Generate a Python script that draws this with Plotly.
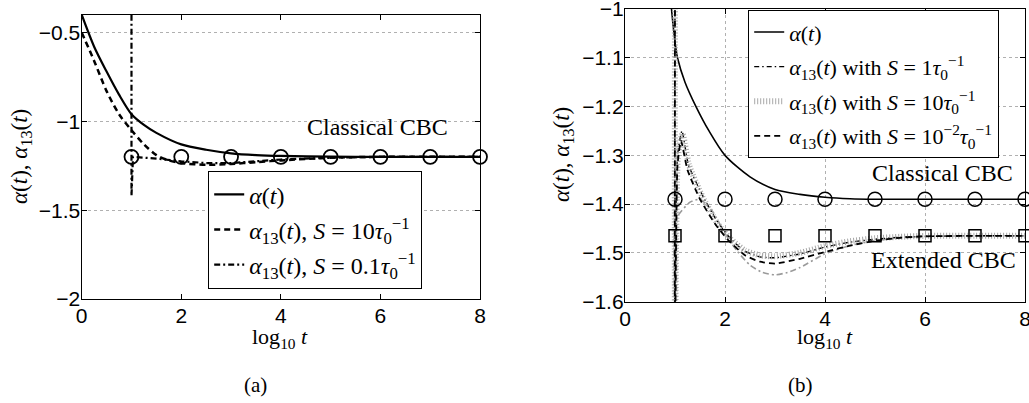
import plotly.graph_objects as go

# ---------------- Panel (a) data ----------------
a_x_alpha = [0, 0.25, 0.5, 0.75, 1, 1.25, 1.5, 2, 2.5, 3, 3.5, 4, 5, 6, 7, 8]
a_y_alpha = [-0.40, -0.58, -0.72, -0.85, -0.96, -1.02, -1.065, -1.13, -1.16, -1.18, -1.19, -1.195, -1.199, -1.2, -1.2, -1.2]

a_x_s10 = [0, 0.25, 0.5, 0.75, 1, 1.25, 1.5, 1.75, 2, 2.5, 3, 3.5, 4, 5, 6, 7, 8]
a_y_s10 = [-0.50, -0.66, -0.83, -0.96, -1.05, -1.13, -1.19, -1.22, -1.235, -1.245, -1.24, -1.23, -1.22, -1.205, -1.2, -1.2, -1.2]

a_x_s01 = [1.0, 1.0, 1.03, 1.5, 2, 2.5, 3, 4, 5, 6, 7, 8]
a_y_s01 = [-0.40, -1.42, -1.20, -1.21, -1.225, -1.235, -1.235, -1.215, -1.205, -1.2, -1.2, -1.2]

a_x_circ = [1, 2, 3, 4, 5, 6, 7, 8]
a_y_circ = [-1.2] * 8

# ---------------- Panel (b) data ----------------
b_x_alpha = [0.93, 0.98, 1.05, 1.2, 1.42, 1.68, 2.0, 2.5, 3.0, 3.5, 4.0, 4.5, 5, 6, 7, 8]
b_y_alpha = [-1.0, -1.05, -1.1, -1.15, -1.2, -1.25, -1.3, -1.344, -1.37, -1.38, -1.386, -1.389, -1.39, -1.39, -1.39, -1.39]

b_x_s1 = [1.0, 1.0, 1.05, 1.14, 1.27, 1.57, 1.83, 2.07, 2.37, 2.7, 3.0, 3.5, 4.0, 4.5, 5.0, 5.5, 6.0, 7.0, 8.0]
b_y_s1 = [-0.9, -1.7, -1.3, -1.25, -1.32, -1.386, -1.433, -1.466, -1.495, -1.508, -1.51, -1.502, -1.488, -1.478, -1.472, -1.468, -1.466, -1.465, -1.465]

b_x_s10 = [1.0, 1.0, 1.06, 1.15, 1.28, 1.55, 1.85, 2.1, 2.4, 2.7, 3.0, 3.5, 4.0, 4.5, 5.0, 5.5, 6.0, 7.0, 8.0]
b_y_s10 = [-0.9, -1.7, -1.3, -1.255, -1.32, -1.385, -1.44, -1.47, -1.495, -1.505, -1.507, -1.5, -1.486, -1.476, -1.47, -1.467, -1.465, -1.465, -1.465]

b_x_s001 = [1.0, 1.0, 1.05, 1.12, 1.25, 1.5, 1.8, 2.05, 2.4, 2.7, 3.0, 3.5, 4.0, 4.5, 5.0, 5.5, 6.0, 7.0, 8.0]
b_y_s001 = [-0.9, -1.7, -1.32, -1.27, -1.33, -1.39, -1.44, -1.472, -1.505, -1.518, -1.522, -1.512, -1.498, -1.485, -1.475, -1.469, -1.466, -1.465, -1.465]

b_x_grey = [1.0, 1.0, 1.05, 1.13, 1.3, 1.5, 1.75, 2.0, 2.25, 2.5, 2.75, 3.0, 3.25, 3.5, 4.0, 4.5, 5.0, 5.5, 6.0, 7.0, 8.0]
b_y_grey = [-1.65, -1.44, -1.425, -1.414, -1.396, -1.39, -1.415, -1.46, -1.497, -1.525, -1.54, -1.545, -1.54, -1.53, -1.502, -1.485, -1.475, -1.469, -1.466, -1.465, -1.465]

b_x_circ = [1, 2, 3, 4, 5, 6, 7, 8]
b_y_circ = [-1.39] * 8
b_x_sq = [1, 2, 3, 4, 5, 6, 7, 8]
b_y_sq = [-1.465] * 8

x_ticks = [0, 2, 4, 6, 8]
a_y_ticks = [-2, -1.5, -1, -0.5]
a_y_ticklabels = ["\u22122", "\u22121.5", "\u22121", "\u22120.5"]
b_y_ticks = [-1.6, -1.5, -1.4, -1.3, -1.2, -1.1, -1.0]
b_y_ticklabels = ["\u22121.6", "\u22121.5", "\u22121.4", "\u22121.3", "\u22121.2", "\u22121.1", "\u22121"]

SERIF = "Liberation Serif"
SANS = "Liberation Sans"
W, H = 1029, 403


def px(xs):
    return xs / W


def py(ys):
    return (H - ys) / H


fig = go.Figure()

# ---- panel (a) traces ----
fig.add_trace(go.Scatter(x=a_x_alpha, y=a_y_alpha, mode="lines", name="<i>α</i>(<i>t</i>)",
                         line=dict(color="black", width=2.2, shape="spline", smoothing=0.8),
                         xaxis="x", yaxis="y", legend="legend", legendgroup="a1"))
fig.add_trace(go.Scatter(x=a_x_s10, y=a_y_s10, mode="lines",
                         name="<i>α</i><sub>13</sub>(<i>t</i>), <i>S</i>\u00a0=\u00a010<i>τ</i><sub>0</sub><sup>−1</sup>",
                         line=dict(color="black", width=2.5, dash="6px,4px", shape="spline", smoothing=0.8),
                         xaxis="x", yaxis="y", legend="legend", legendgroup="a2"))
fig.add_trace(go.Scatter(x=a_x_s01, y=a_y_s01, mode="lines",
                         name="<i>α</i><sub>13</sub>(<i>t</i>), <i>S</i>\u00a0=\u00a00.1<i>τ</i><sub>0</sub><sup>−1</sup>",
                         line=dict(color="black", width=2.2, dash="6px,3px,2px,3px"),
                         xaxis="x", yaxis="y", legend="legend", legendgroup="a3"))
fig.add_trace(go.Scatter(x=a_x_circ, y=a_y_circ, mode="markers", showlegend=False, cliponaxis=False,
                         marker=dict(symbol="circle-open", size=14, color="black", line=dict(width=1.8)),
                         xaxis="x", yaxis="y"))

# ---- panel (b) traces ----
fig.add_trace(go.Scatter(x=b_x_grey, y=b_y_grey, mode="lines", showlegend=False,
                         line=dict(color="#9a9a9a", width=1.6, dash="6px,3px,2px,3px", shape="spline", smoothing=0.6),
                         xaxis="x2", yaxis="y2"))
fig.add_trace(go.Scatter(x=b_x_alpha, y=b_y_alpha, mode="lines", name="<i>α</i>(<i>t</i>)",
                         line=dict(color="black", width=1.6, shape="spline", smoothing=0.8),
                         xaxis="x2", yaxis="y2", legend="legend2", legendgroup="b1"))
fig.add_trace(go.Scatter(x=b_x_s1, y=b_y_s1, mode="lines",
                         name="<i>α</i><sub>13</sub>(<i>t</i>) with <i>S</i>\u00a0=\u00a01<i>τ</i><sub>0</sub><sup>−1</sup>",
                         line=dict(color="black", width=1.4, dash="5px,3px,1.5px,3px", shape="spline", smoothing=0.5),
                         xaxis="x2", yaxis="y2", legend="legend2", legendgroup="b2"))
fig.add_trace(go.Scatter(x=b_x_s10, y=b_y_s10, mode="lines",
                         name="<i>α</i><sub>13</sub>(<i>t</i>) with <i>S</i>\u00a0=\u00a010<i>τ</i><sub>0</sub><sup>−1</sup>",
                         line=dict(color="#a8a8a8", width=6, dash="1px,2px", shape="spline", smoothing=0.5),
                         xaxis="x2", yaxis="y2", legend="legend2", legendgroup="b3"))
fig.add_trace(go.Scatter(x=b_x_s001, y=b_y_s001, mode="lines",
                         name="<i>α</i><sub>13</sub>(<i>t</i>) with <i>S</i>\u00a0=\u00a010<sup>−2</sup><i>τ</i><sub>0</sub><sup>−1</sup>",
                         line=dict(color="black", width=1.8, dash="6px,4px", shape="spline", smoothing=0.5),
                         xaxis="x2", yaxis="y2", legend="legend2", legendgroup="b4"))
fig.add_trace(go.Scatter(x=b_x_circ, y=b_y_circ, mode="markers", showlegend=False, cliponaxis=False,
                         marker=dict(symbol="circle-open", size=14, color="black", line=dict(width=1.5)),
                         xaxis="x2", yaxis="y2"))
fig.add_trace(go.Scatter(x=b_x_sq, y=b_y_sq, mode="markers", showlegend=False, cliponaxis=False,
                         marker=dict(symbol="square-open", size=12, color="black", line=dict(width=1.5)),
                         xaxis="x2", yaxis="y2"))

axis_common = dict(showline=True, linecolor="black", linewidth=1.2, mirror="ticks",
                   ticks="inside", ticklen=5, tickcolor="black", zeroline=False, automargin=False,
                   ticklabeloverflow="allow",
                   tickfont=dict(family=SANS, size=21, color="black"))
grid = dict(showgrid=True, gridcolor="#b0b0b0", griddash="dot", gridwidth=1)

fig.update_layout(
    template="none",
    width=W, height=H, paper_bgcolor="white", plot_bgcolor="white",
    margin=dict(l=0, r=0, t=0, b=0, pad=0, autoexpand=False),
    xaxis=dict(domain=[px(81.7), px(480)], range=[0, 8], tickvals=x_ticks, anchor="y",
               showgrid=False, ticklabelstandoff=-2, **axis_common),
    yaxis=dict(domain=[py(299), py(14.7)], range=[-2, -0.4], tickvals=a_y_ticks,
               ticktext=a_y_ticklabels, anchor="x", ticklabelstandoff=-4, **grid, **axis_common),
    xaxis2=dict(domain=[px(625), px(1025)], range=[0, 8], tickvals=x_ticks, anchor="y2",
                ticklabelstandoff=-2, **grid, **axis_common),
    yaxis2=dict(domain=[py(301.7), py(9)], range=[-1.6, -1.0], tickvals=b_y_ticks,
                ticktext=b_y_ticklabels, anchor="x2", ticklabelstandoff=-4, **grid, **axis_common),
    legend=dict(x=px(208), y=py(171), xanchor="left", yanchor="top",
                bordercolor="black", borderwidth=1.2, bgcolor="white",
                font=dict(family=SERIF, size=24, color="black"),
                traceorder="grouped", tracegroupgap=1, itemwidth=30),
    legend2=dict(x=px(748), y=py(10), xanchor="left", yanchor="top",
                 bordercolor="black", borderwidth=1.2, bgcolor="white",
                 font=dict(family=SERIF, size=22, color="black"),
                 traceorder="grouped", tracegroupgap=3, itemwidth=30),
    showlegend=True,
)

ann_font = dict(family=SERIF, size=24, color="black")
common = dict(showarrow=False, xanchor="center", yanchor="middle")
annotations = [
    dict(text="Classical CBC", x=5.95, y=-1.03, xref="x", yref="y", font=ann_font, **common),
    dict(text="Classical CBC", x=6.35, y=-1.336, xref="x2", yref="y2", font=ann_font, **common),
    dict(text="Extended CBC", x=6.37, y=-1.514, xref="x2", yref="y2", font=ann_font, **common),
    dict(text="log<sub>10</sub> <i>t</i>", x=px(280), y=py(338), xref="paper", yref="paper",
         font=dict(family=SERIF, size=22, color="black"), **common),
    dict(text="log<sub>10</sub> <i>t</i>", x=px(825), y=py(338), xref="paper", yref="paper",
         font=dict(family=SERIF, size=22, color="black"), **common),
    dict(text="<i>α</i>(<i>t</i>), <i>α</i><sub>13</sub>(<i>t</i>)", x=px(21), y=py(157),
         xref="paper", yref="paper", textangle=-90,
         font=dict(family=SERIF, size=23, color="black"), **common),
    dict(text="<i>α</i>(<i>t</i>), <i>α</i><sub>13</sub>(<i>t</i>)", x=px(563), y=py(155),
         xref="paper", yref="paper", textangle=-90,
         font=dict(family=SERIF, size=23, color="black"), **common),
    dict(text="(a)", x=px(255), y=py(385), xref="paper", yref="paper",
         font=dict(family=SERIF, size=21, color="black"), **common),
    dict(text="(b)", x=px(800), y=py(385), xref="paper", yref="paper",
         font=dict(family=SERIF, size=21, color="black"), **common),
]
fig.update_layout(annotations=annotations)

# the page body would otherwise add an 8 px margin around the fixed-size figure
fig.write_html("out.html", config={"displayModeBar": False, "staticPlot": True},
               post_script="document.body.style.margin='0';document.body.style.overflow='hidden';")
